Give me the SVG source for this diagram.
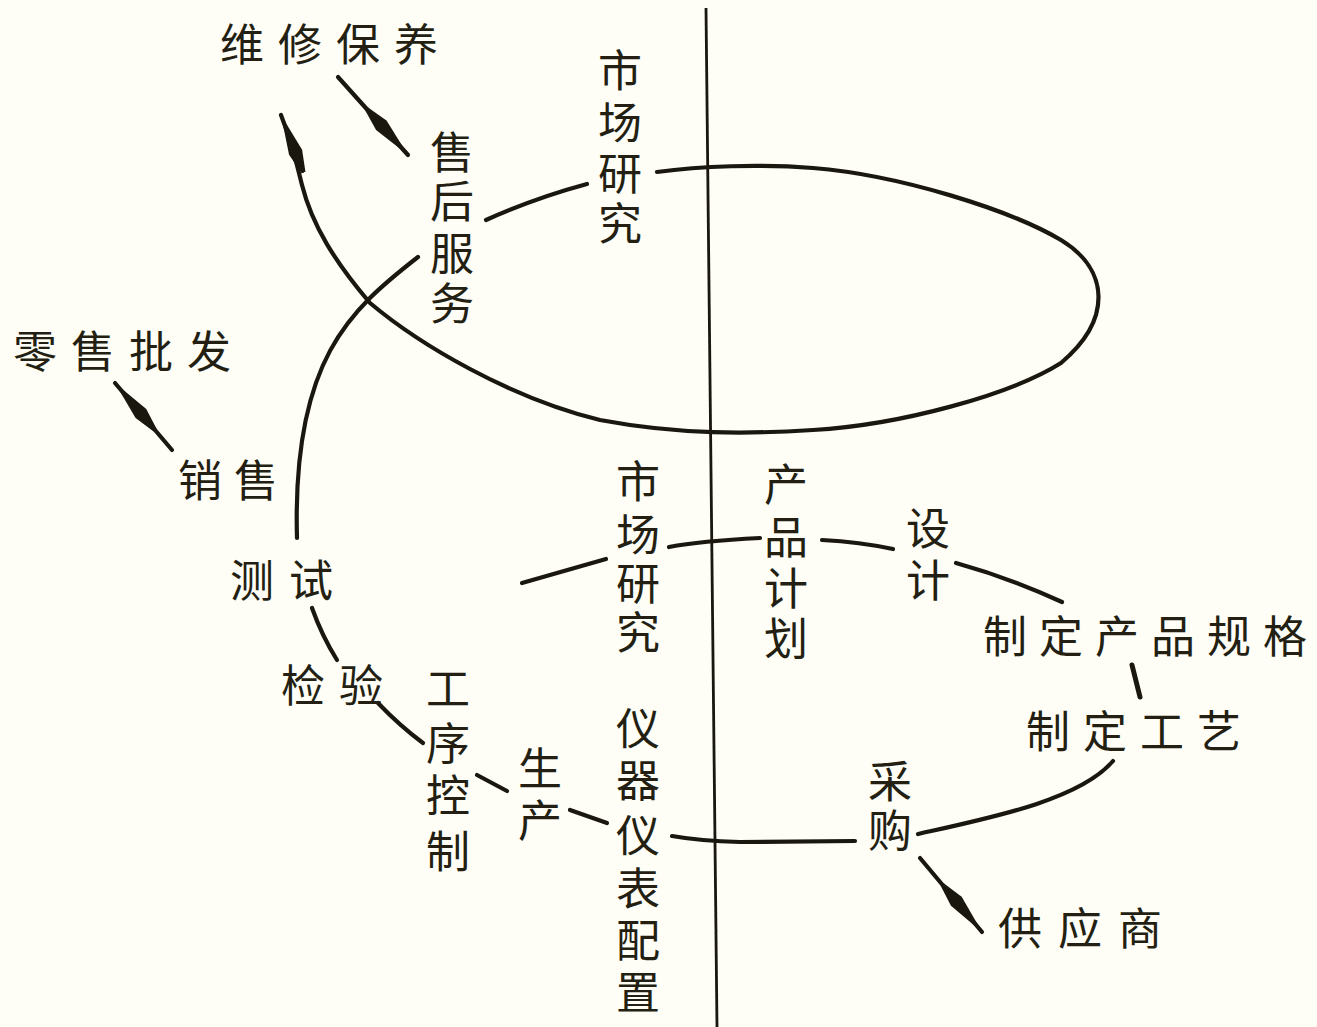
<svg xmlns="http://www.w3.org/2000/svg" width="1317" height="1027" viewBox="0 0 1317 1027">
<style>
.bg{fill:#fefdf6}
.ln{fill:none;stroke:#1a170f;stroke-width:4.2;stroke-linecap:round}
.ax{fill:none;stroke:#1a170f;stroke-width:2.8}
text{font-family:"Noto Sans CJK SC","Noto Sans CJK TC",sans-serif;font-size:44px;fill:#231f12}
.v{text-anchor:middle}
</style>
<defs>
<marker id="dart" viewBox="0 -7.5 62 15" refX="62" refY="0" markerWidth="62" markerHeight="15" markerUnits="userSpaceOnUse" orient="auto">
<path d="M0,-2 L22,-7 L62,0 L22,7 L0,2 Z" fill="#1a170f"/>
</marker>
</defs>
<rect class="bg" x="0" y="0" width="1317" height="1027"/>

<g id="connectors">
<path id="axis" class="ax" d="M706,8 L717,1027"/>
<path id="upper-loop" class="ln" marker-end="url(#dart)" d="M657,172 C700,166 760,164 813,168 C900,175 1010,210 1061,240 C1110,270 1112,320 1061,363 C1010,395 900,425 813,430 C750,434 680,435 600,420 C510,398 420,345 370,303 C335,262 312,225 302,185 C296,160 290,138 281,115"/>
<path class="ln" d="M486,220 Q535,198 587,184"/>
<path class="ln" d="M418,257 C350,310 292,360 297,538"/>
<path class="ln" d="M312,608 Q322,636 337,660"/>
<path class="ln" d="M378,703 Q400,726 423,743"/>
<path class="ln" d="M477,775 L507,791"/>
<path class="ln" d="M570,810 L607,823"/>
<path class="ln" d="M672,836 Q700,841 740,842 L855,841"/>
<path class="ln" d="M918,834 C990,818 1080,800 1113,761"/>
<path class="ln" d="M1132,665 L1140,697" style="stroke-width:5"/>
<path class="ln" d="M956,563 Q1010,578 1062,602"/>
<path class="ln" d="M822,540 Q860,542 893,549"/>
<path class="ln" d="M669,547 Q700,541 760,538"/>
<path class="ln" d="M522,583 L606,559"/>
<path class="ln" marker-end="url(#dart)" d="M338,77 L408,155"/>
<path class="ln" marker-end="url(#dart)" d="M172,450 L115,383"/>
<path class="ln" marker-end="url(#dart)" d="M920,858 L982,932"/>
</g>

<g id="n-weixiu"><text x="220" y="61" letter-spacing="14">维修保养</text></g>
<g id="n-lingshou"><text x="13" y="368" letter-spacing="14">零售批发</text></g>
<g id="n-xiaoshou"><text x="178" y="497" letter-spacing="12">销售</text></g>
<g id="n-ceshi"><text x="230" y="597" letter-spacing="15">测试</text></g>
<g id="n-jianyan"><text x="281" y="702" letter-spacing="14">检验</text></g>
<g id="n-guige"><text x="983" y="653" letter-spacing="12">制定产品规格</text></g>
<g id="n-gongyi"><text x="1026" y="748" letter-spacing="13">制定工艺</text></g>
<g id="n-gongying"><text x="998" y="945" letter-spacing="16">供应商</text></g>

<g id="n-shichang-top"><text class="v"><tspan x="620" y="87">市</tspan><tspan x="620" y="139">场</tspan><tspan x="620" y="190">研</tspan><tspan x="620" y="240">究</tspan></text></g>
<g id="n-shouhou"><text class="v"><tspan x="452" y="169">售</tspan><tspan x="452" y="218">后</tspan><tspan x="452" y="270">服</tspan><tspan x="452" y="320">务</tspan></text></g>
<g id="n-gongxu"><text class="v"><tspan x="448" y="705">工</tspan><tspan x="448" y="760">序</tspan><tspan x="448" y="812">控</tspan><tspan x="448" y="868">制</tspan></text></g>
<g id="n-shengchan"><text class="v"><tspan x="540" y="785">生</tspan><tspan x="540" y="837">产</tspan></text></g>
<g id="n-yiqi"><text class="v"><tspan x="638" y="745">仪</tspan><tspan x="638" y="797">器</tspan><tspan x="638" y="852">仪</tspan><tspan x="638" y="905">表</tspan><tspan x="638" y="957">配</tspan><tspan x="638" y="1009">置</tspan></text></g>
<g id="n-shichang-low"><text class="v"><tspan x="638" y="498">市</tspan><tspan x="638" y="551">场</tspan><tspan x="638" y="600">研</tspan><tspan x="638" y="649">究</tspan></text></g>
<g id="n-chanpin"><text class="v"><tspan x="786" y="501">产</tspan><tspan x="786" y="554">品</tspan><tspan x="786" y="605">计</tspan><tspan x="786" y="655">划</tspan></text></g>
<g id="n-sheji"><text class="v"><tspan x="928" y="545">设</tspan><tspan x="928" y="597">计</tspan></text></g>
<g id="n-caigou"><text class="v"><tspan x="890" y="798">采</tspan><tspan x="890" y="847">购</tspan></text></g>
</svg>
